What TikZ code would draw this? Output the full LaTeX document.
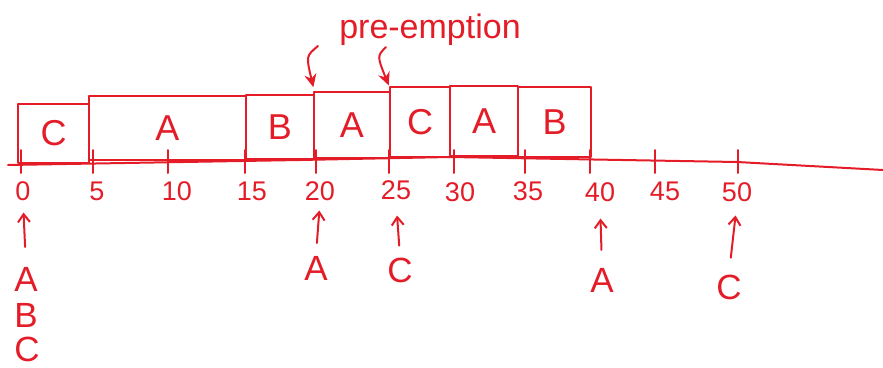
\documentclass[tikz,border=0pt]{standalone}
\usepackage{fontspec}
\setmainfont{Liberation Sans}
\usetikzlibrary{arrows.meta}
\definecolor{ink}{RGB}{228,28,40}
\begin{document}
\begin{tikzpicture}[x=1pt,y=-1pt,line width=2pt,draw=ink,line cap=round,line join=round,
  every node/.style={text=ink,inner sep=0pt},
  slot/.style={draw=ink,anchor=south west,font=\fontsize{36}{36}\selectfont},
  num/.style={font=\fontsize{27}{27}\selectfont},
  lab/.style={font=\fontsize{35}{35}\selectfont},
  up/.style={-{Straight Barb[length=8pt,width=12pt]}},
  down/.style={-{Stealth[length=13pt,width=12pt]}}]
\useasboundingbox (0,0) rectangle (883,367);
% axis
\coordinate (ax0) at (8,165);
\coordinate (ax1) at (883,170);
\draw (ax0) -- (300,160) -- (450,157) -- (737,162) -- (ax1);
% ticks
\foreach \x in {21,93,168,245,316,389,454,525,590,655,738}
  \draw (\x,150) -- (\x,173);
% slots
\node[slot,minimum width=71pt,minimum height=59pt] (b1) at (17,164) {C};
\node[slot,minimum width=157pt,minimum height=64pt] (b2) at (88,161) {A};
\node[slot,minimum width=68pt,minimum height=64pt] (b3) at (245,160) {B};
\node[slot,minimum width=76pt,minimum height=66pt] (b4) at (313,159) {A};
\node[slot,minimum width=60pt,minimum height=70pt] (b5) at (389,158) {C};
\node[slot,minimum width=68pt,minimum height=70pt] (b6) at (449,157) {A};
\node[slot,minimum width=73pt,minimum height=70pt] (b7) at (517,158) {B};
% tick labels
\node[num] (t0) at (23,191) {0};
\node[num] (t5) at (97,191) {5};
\node[num] (t10) at (177,191) {10};
\node[num] (t15) at (252,191) {15};
\node[num] (t20) at (320,191) {20};
\node[num] (t25) at (396,190) {25};
\node[num] (t30) at (460,192) {30};
\node[num] (t35) at (528,191) {35};
\node[num] (t40) at (600,192) {40};
\node[num] (t45) at (665,191) {45};
\node[num] (t50) at (737,192) {50};
% arrivals
\node[lab] (a0) at (26,279) {A};
\node[lab] (bb0) at (26,315) {B};
\node[lab] (cc0) at (27,349) {C};
\node[lab] (a20) at (316,268) {A};
\node[lab] (c25) at (400,270) {C};
\node[lab] (a40) at (602,280) {A};
\node[lab] (c50) at (729,287) {C};
\draw[up,shorten <=19pt,shorten >=11pt] (a0.north) -- (t0.south);
\draw[up,shorten <=12pt,shorten >=9pt] (a20.north) -- (t20.south);
\draw[up,shorten <=11pt,shorten >=15pt] (c25.north) -- (t25.south);
\draw[up,shorten <=17pt,shorten >=16pt] (a40.north) -- (t40.south);
\draw[up,shorten <=16pt,shorten >=13pt] (c50.north) -- (t50.south);
% pre-emption
\node[font=\fontsize{34}{34}\selectfont] (pe) at (430,30) {pre-emption};
\coordinate (p1) at (318,46);
\coordinate (p2) at (386,47);
\draw[down,shorten >=7pt] (p1) .. controls (306,56) .. (b3.north east);
\draw[down,shorten >=6pt] (p2) .. controls (377,56) .. (b4.north east);
\end{tikzpicture}
\end{document}
